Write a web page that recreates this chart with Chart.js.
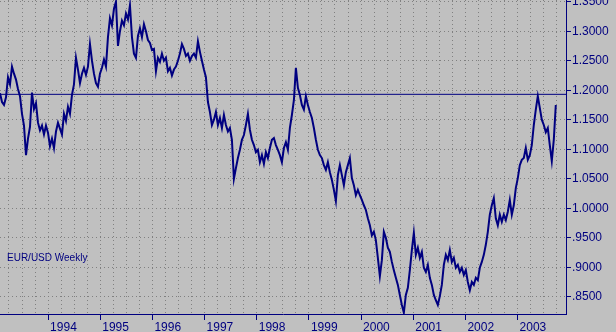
<!DOCTYPE html>
<html>
<head>
<meta charset="utf-8">
<script src="https://cdn.jsdelivr.net/npm/chart.js@4"></script>
<style>
html,body{margin:0;padding:0;background:#c0c0c0;overflow:hidden;}
canvas{display:block;background:#c0c0c0;}
</style>
</head>
<body>
<canvas id="c" width="616" height="332"></canvas>
<script>
// ---------- data ----------
const chartTitle = 'EUR/USD Weekly';
const startYear = 1993.0776;          // date of first sample (decimal year)
const sampleStepYears = 14 / 365.25;  // one sample every two weeks
const eurusd = [
  1.195,1.180,1.175,1.188,1.222,1.210,1.240,1.228,1.218,1.202,
  1.190,1.160,1.140,1.090,1.118,1.138,1.196,1.168,1.178,1.145,
  1.132,1.140,1.125,1.140,1.128,1.105,1.118,1.102,1.130,1.145,
  1.135,1.125,1.160,1.148,1.172,1.160,1.192,1.210,1.255,1.235,
  1.212,1.228,1.238,1.226,1.240,1.278,1.250,1.228,1.212,1.206,
  1.228,1.238,1.252,1.240,1.290,1.322,1.310,1.338,1.350,1.275,
  1.300,1.318,1.310,1.330,1.320,1.344,1.290,1.262,1.255,1.292,
  1.305,1.290,1.312,1.300,1.285,1.280,1.268,1.270,1.232,1.255,
  1.248,1.262,1.250,1.255,1.232,1.238,1.225,1.235,1.240,1.250,
  1.262,1.278,1.270,1.258,1.262,1.250,1.258,1.262,1.255,1.283,
  1.265,1.250,1.235,1.222,1.180,1.163,1.141,1.150,1.163,1.141,
  1.153,1.136,1.158,1.141,1.130,1.136,1.116,1.050,1.068,1.085,
  1.099,1.116,1.124,1.141,1.160,1.133,1.116,1.107,1.095,1.099,
  1.078,1.090,1.075,1.095,1.085,1.102,1.116,1.119,1.107,1.099,
  1.090,1.078,1.102,1.112,1.099,1.136,1.158,1.183,1.238,1.204,
  1.192,1.175,1.167,1.190,1.175,1.163,1.153,1.136,1.116,1.099,
  1.090,1.085,1.073,1.065,1.078,1.061,1.048,1.031,1.012,1.056,
  1.073,1.056,1.039,1.061,1.073,1.085,1.051,1.039,1.022,1.031,
  1.022,1.014,1.005,0.997,0.983,0.971,0.954,0.960,0.946,0.916,
  0.885,0.912,0.960,0.950,0.933,0.926,0.909,0.895,0.882,0.870,
  0.853,0.836,0.823,0.853,0.865,0.895,0.929,0.958,0.921,0.933,
  0.916,0.926,0.899,0.892,0.904,0.882,0.870,0.853,0.844,0.836,
  0.851,0.870,0.904,0.921,0.912,0.929,0.909,0.916,0.899,0.904,
  0.892,0.899,0.887,0.895,0.875,0.861,0.875,0.870,0.882,0.878,
  0.899,0.909,0.921,0.938,0.960,0.989,1.005,1.017,0.983,0.971,
  0.989,0.977,0.989,0.980,0.994,1.014,0.989,1.005,1.034,1.051,
  1.073,1.082,1.085,1.102,1.082,1.090,1.107,1.141,1.167,1.190,
  1.170,1.150,1.141,1.129,1.136,1.107,1.080,1.116,1.175
];
const referenceLevel = 1.193;   // horizontal line
const yearTickValues = [1994,1995,1996,1997,1998,1999,2000,2001,2002,2003];
const priceTickValues = [0.85,0.90,0.95,1.00,1.05,1.10,1.15,1.20,1.25,1.30,1.35];
const xMin = 1993.0776, xMax = 2003.929;
const yMin = 0.8207, yMax = 1.3529;

// quarterly grid lines (tick positions on the date axis)
const quarterGridValues = [];
for (let yr = 1993; yr <= 2003; yr++) {
  for (let q = 0; q < 4; q++) {
    const v = yr + q / 4;
    if (v > xMin && v < xMax) quarterGridValues.push(v);
  }
}

const seriesPoints = eurusd.map((v, i) => ({ x: startYear + i * sampleStepYears, y: v }));
const refPoints = [{ x: xMin, y: referenceLevel }, { x: xMax, y: referenceLevel }];

// ---------- styling ----------
const NAVY = '#000080';
const GRID = '#808080';
const FONT = '"Liberation Sans", Arial, Helvetica, sans-serif';

const captionPlugin = {
  id: 'caption',
  afterDatasetsDraw(chart) {
    const { ctx, chartArea } = chart;
    ctx.save();
    ctx.font = '10px ' + FONT;
    ctx.fillStyle = NAVY;
    ctx.textBaseline = 'alphabetic';
    ctx.textAlign = 'left';
    ctx.fillText(chartTitle, chartArea.left + 7, chartArea.top + 261);
    ctx.restore();
  }
};

new Chart(document.getElementById('c'), {
  type: 'line',
  data: {
    datasets: [
      {
        label: 'EUR/USD',
        data: seriesPoints,
        borderColor: NAVY,
        borderWidth: 2,
        pointRadius: 0,
        tension: 0,
        xAxisID: 'x',
        yAxisID: 'y'
      },
      {
        label: 'Level',
        data: refPoints,
        borderColor: NAVY,
        borderWidth: 1,
        pointRadius: 0,
        tension: 0,
        xAxisID: 'x',
        yAxisID: 'y'
      }
    ]
  },
  options: {
    responsive: false,
    animation: false,
    events: [],
    layout: { padding: 0 },
    plugins: { legend: { display: false }, tooltip: { enabled: false }, title: { display: false } },
    scales: {
      x: {
        type: 'linear',
        position: 'bottom',
        min: xMin,
        max: xMax,
        afterBuildTicks: s => { s.ticks = yearTickValues.map(v => ({ value: v })); },
        afterFit: s => { s.height = 18; s.paddingLeft = 0; s.paddingRight = 0; },
        ticks: {
          autoSkip: false,
          maxRotation: 0,
          minRotation: 0,
          align: 'start',
          labelOffset: 2,
          padding: 0,
          color: NAVY,
          font: { family: FONT, size: 12 },
          callback: v => String(v)
        },
        grid: { drawOnChartArea: false, drawTicks: true, tickLength: 6, tickColor: NAVY, tickWidth: 1 },
        border: { display: true, color: NAVY, width: 1 }
      },
      xq: {
        type: 'linear',
        position: 'top',
        min: xMin,
        max: xMax,
        afterBuildTicks: s => { s.ticks = quarterGridValues.map(v => ({ value: v })); },
        afterFit: s => { s.height = 0; s.paddingLeft = 0; s.paddingRight = 0; },
        ticks: { display: false },
        grid: { color: GRID, lineWidth: 1, drawTicks: false },
        border: { display: false, dash: [1, 3] }
      },
      y: {
        type: 'linear',
        position: 'right',
        min: yMin,
        max: yMax,
        afterBuildTicks: s => { s.ticks = priceTickValues.map(v => ({ value: v })); },
        afterFit: s => { s.width = 50; s.paddingTop = 0; s.paddingBottom = 0; },
        ticks: {
          padding: 1,
          color: NAVY,
          font: { family: FONT, size: 12 },
          callback: v => v.toFixed(4).replace(/^0/, '')
        },
        grid: { color: GRID, lineWidth: 1, tickLength: 5, tickColor: NAVY, tickBorderDash: [], tickWidth: 1 },
        border: { display: true, color: NAVY, width: 1, dash: [1, 3] }
      }
    }
  },
  plugins: [captionPlugin]
});
</script>
</body>
</html>
